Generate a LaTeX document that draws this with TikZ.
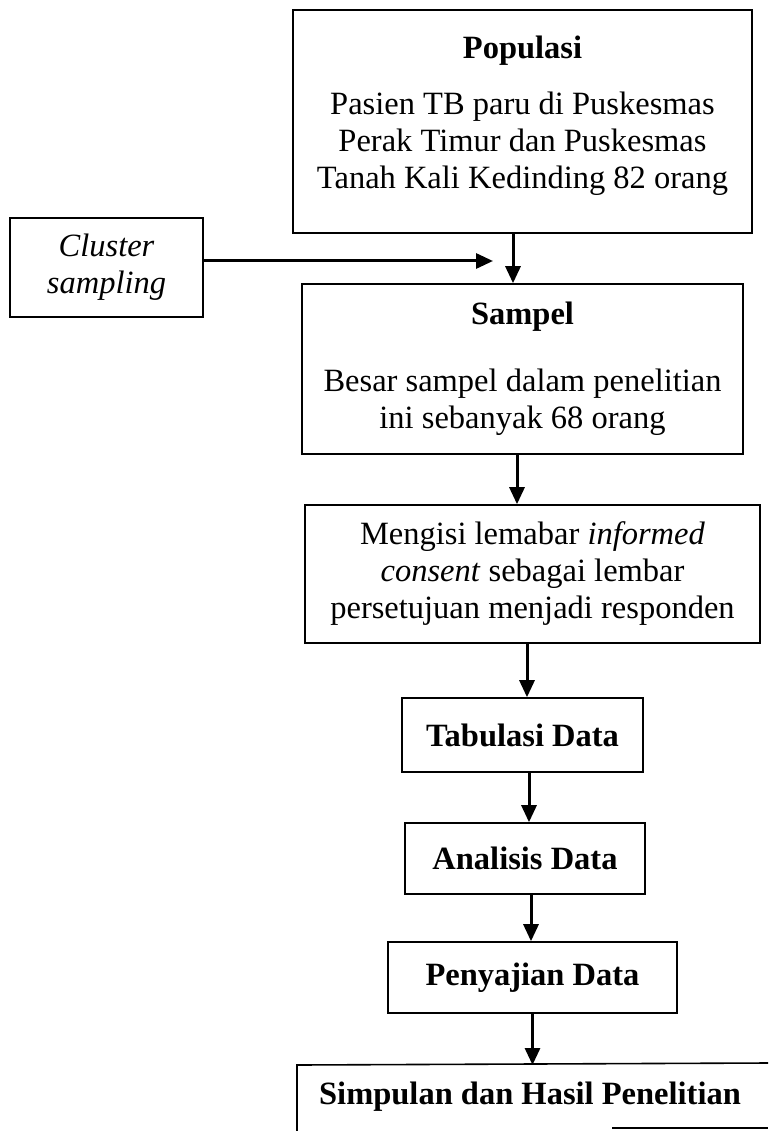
\documentclass[tikz,border=0pt]{standalone}
\usepackage{fontspec}
\setmainfont{Liberation Serif}
\usetikzlibrary{arrows.meta}
\begin{document}
\begin{tikzpicture}[x=1pt,y=-1pt,
  box/.style={draw, line width=1.6pt, inner sep=0pt, align=center, font=\fontsize{32.5}{37}\selectfont},
  arr/.style={line width=3pt, -{Triangle[length=17pt,width=15pt]}},
  bline/.style={line width=1.6pt}]
\useasboundingbox (0,0) rectangle (768,1131);
\node[box, minimum width=459pt, minimum height=223pt] (pop) at (522.5,121.5)
  {\textbf{Populasi}\\[19pt]Pasien TB paru di Puskesmas\\Perak Timur dan Puskesmas\\Tanah Kali Kedinding 82 orang\\[-19pt]\mbox{}};
\node[box, minimum width=193pt, minimum height=99pt] (clu) at (106.5,267.5)
  {\itshape Cluster\\\itshape sampling};
\node[box, minimum width=441pt, minimum height=170pt] (sam) at (522.5,369)
  {\textbf{Sampel}\\[30pt]Besar sampel dalam penelitian\\ini sebanyak 68 orang};
\node[box, minimum width=455pt, minimum height=138pt] (inf) at (532.5,574)
  {Mengisi lemabar \textit{informed}\\\textit{consent} sebagai lembar\\persetujuan menjadi responden};
\node[box, minimum width=241pt, minimum height=74pt] (tab) at (522.5,735)
  {\textbf{Tabulasi Data}};
\node[box, minimum width=240pt, minimum height=71pt] (ana) at (525,858.5)
  {\textbf{Analisis Data}};
\node[box, minimum width=289pt, minimum height=71pt] (pen) at (532.5,977.5)
  {\textbf{Penyajian Data}};
\node[font=\fontsize{32.5}{37}\selectfont\bfseries, inner sep=0pt] (sim) at (530,1097)
  {Simpulan dan Hasil Penelitian};
\coordinate (simtl) at (297,1065);
\coordinate (simtr) at (768,1063);
\coordinate (simbl) at (297,1131);
\coordinate (simb1) at (612,1128);
\coordinate (simb2) at (768,1128);
\draw[bline] (simbl) -- (simtl) -- (simtr);
\draw[bline] (simb1) -- (simb2);
\coordinate (ce) at (493,261);
\draw[arr] (clu.east |- ce) -- (ce);
\draw[arr] ([xshift=-9.5pt]pop.south) -- ([xshift=-9.5pt]sam.north);
\draw[arr] ([xshift=-5.5pt]sam.south) -- ([xshift=-15.5pt]inf.north);
\draw[arr] ([xshift=-5.5pt]inf.south) -- ([xshift=4.5pt]tab.north);
\draw[arr] ([xshift=6.5pt]tab.south) -- ([xshift=4pt]ana.north);
\draw[arr] ([xshift=6pt]ana.south) -- ([xshift=-1.5pt]pen.north);
\draw[arr] ([xshift=0pt]pen.south) -- (pen.south |- simtl);
\end{tikzpicture}
\end{document}
